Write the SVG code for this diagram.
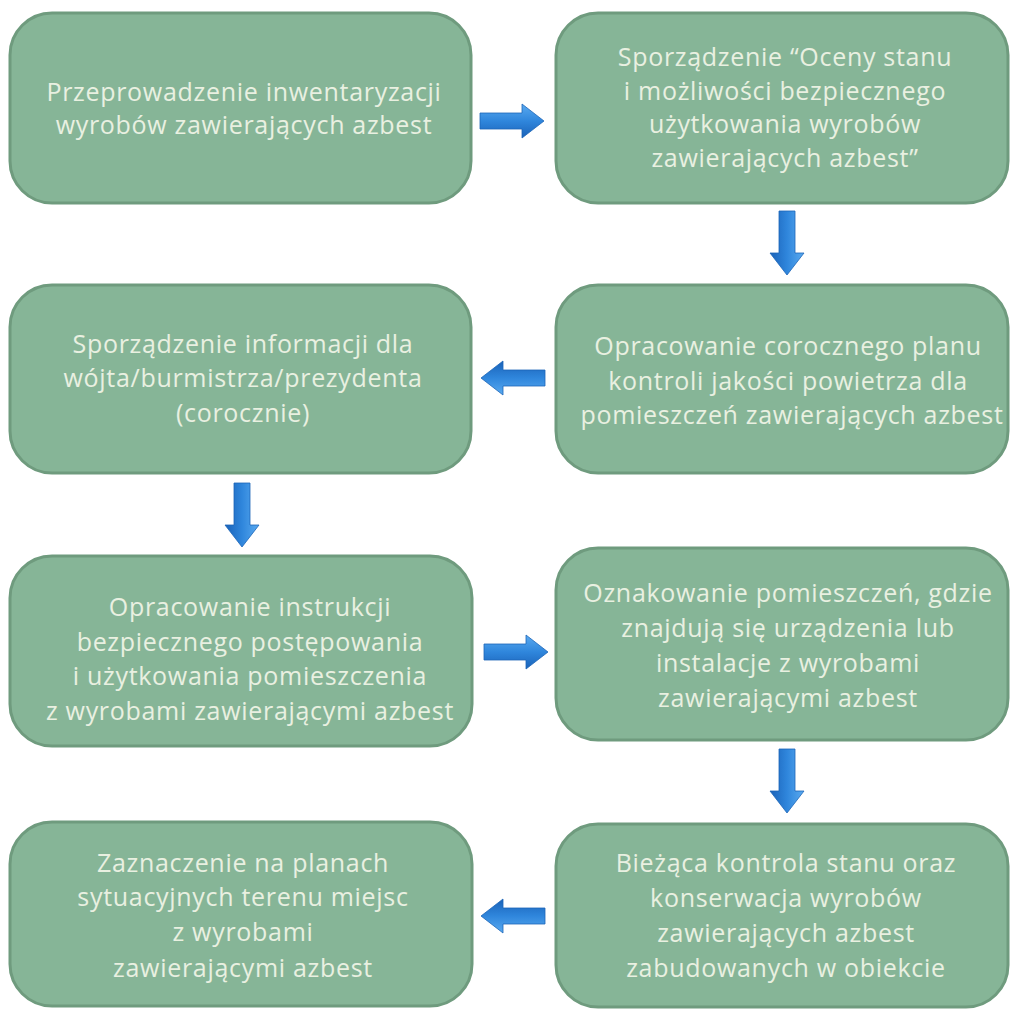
<svg xmlns="http://www.w3.org/2000/svg" width="1011" height="1010" viewBox="0 0 1011 1010">
<style>
.box{fill:#86b597;stroke:#6f9b7e;stroke-width:3}
.t{font-family:"Open Sans","Noto Sans","DejaVu Sans",sans-serif;font-size:25px;letter-spacing:0.7px;fill:#e9f0e1;text-anchor:middle}
.arr{fill:url(#ag);stroke:#1d66b8;stroke-width:0.8}
</style>
<defs>
<linearGradient id="ag" x1="0" y1="0" x2="0" y2="1">
<stop offset="0" stop-color="#5aaaf0"/>
<stop offset="0.5" stop-color="#2f86dc"/>
<stop offset="1" stop-color="#1a62b8"/>
</linearGradient>
<path id="arrow" d="M0,-8 L42,-8 L42,-17 L64,0 L42,17 L42,8 L0,8 Z"/>
</defs>
<rect width="1011" height="1010" fill="#ffffff"/>

<g id="n1">
<rect class="box" x="10" y="13" width="461" height="190" rx="42"/>
<text class="t" x="244" y="101">Przeprowadzenie inwentaryzacji</text>
<text class="t" x="244" y="134">wyrobów zawierających azbest</text>
</g>
<g id="n2">
<rect class="box" x="556" y="13" width="452" height="190" rx="42"/>
<text class="t" x="785" y="66">Sporządzenie “Oceny stanu</text>
<text class="t" x="785" y="100">i możliwości bezpiecznego</text>
<text class="t" x="785" y="133">użytkowania wyrobów</text>
<text class="t" x="785" y="167">zawierających azbest”</text>
</g>
<g id="n3">
<rect class="box" x="556" y="285" width="452" height="188" rx="42"/>
<text class="t" x="788" y="355">Opracowanie corocznego planu</text>
<text class="t" x="788" y="390">kontroli jakości powietrza dla</text>
<text class="t" x="792" y="424">pomieszczeń zawierających azbest</text>
</g>
<g id="n4">
<rect class="box" x="10" y="285" width="461" height="188" rx="42"/>
<text class="t" x="243" y="353">Sporządzenie informacji dla</text>
<text class="t" x="243" y="387">wójta/burmistrza/prezydenta</text>
<text class="t" x="243" y="422">(corocznie)</text>
</g>
<g id="n5">
<rect class="box" x="10" y="556" width="462" height="190" rx="42"/>
<text class="t" x="250" y="616">Opracowanie instrukcji</text>
<text class="t" x="250" y="651">bezpiecznego postępowania</text>
<text class="t" x="250" y="685">i użytkowania pomieszczenia</text>
<text class="t" x="250" y="720">z wyrobami zawierającymi azbest</text>
</g>
<g id="n6">
<rect class="box" x="556" y="548" width="452" height="192" rx="42"/>
<text class="t" x="788" y="602">Oznakowanie pomieszczeń, gdzie</text>
<text class="t" x="788" y="637">znajdują się urządzenia lub</text>
<text class="t" x="788" y="672">instalacje z wyrobami</text>
<text class="t" x="788" y="707">zawierającymi azbest</text>
</g>
<g id="n7">
<rect class="box" x="556" y="824" width="452" height="183" rx="42"/>
<text class="t" x="786" y="872">Bieżąca kontrola stanu oraz</text>
<text class="t" x="786" y="907">konserwacja wyrobów</text>
<text class="t" x="786" y="942">zawierających azbest</text>
<text class="t" x="786" y="977">zabudowanych w obiekcie</text>
</g>
<g id="n8">
<rect class="box" x="10" y="822" width="462" height="184" rx="42"/>
<text class="t" x="243" y="872">Zaznaczenie na planach</text>
<text class="t" x="243" y="906">sytuacyjnych terenu miejsc</text>
<text class="t" x="243" y="941">z wyrobami</text>
<text class="t" x="243" y="977">zawierającymi azbest</text>
</g>

<g id="connectors">
<use href="#arrow" class="arr" transform="translate(480,121)"/>
<use href="#arrow" class="arr" transform="translate(787,211) rotate(90)"/>
<use href="#arrow" class="arr" transform="translate(545,378) rotate(180)"/>
<use href="#arrow" class="arr" transform="translate(242,483) rotate(90)"/>
<use href="#arrow" class="arr" transform="translate(484,652)"/>
<use href="#arrow" class="arr" transform="translate(787,749) rotate(90)"/>
<use href="#arrow" class="arr" transform="translate(545,916) rotate(180)"/>
</g>
</svg>
